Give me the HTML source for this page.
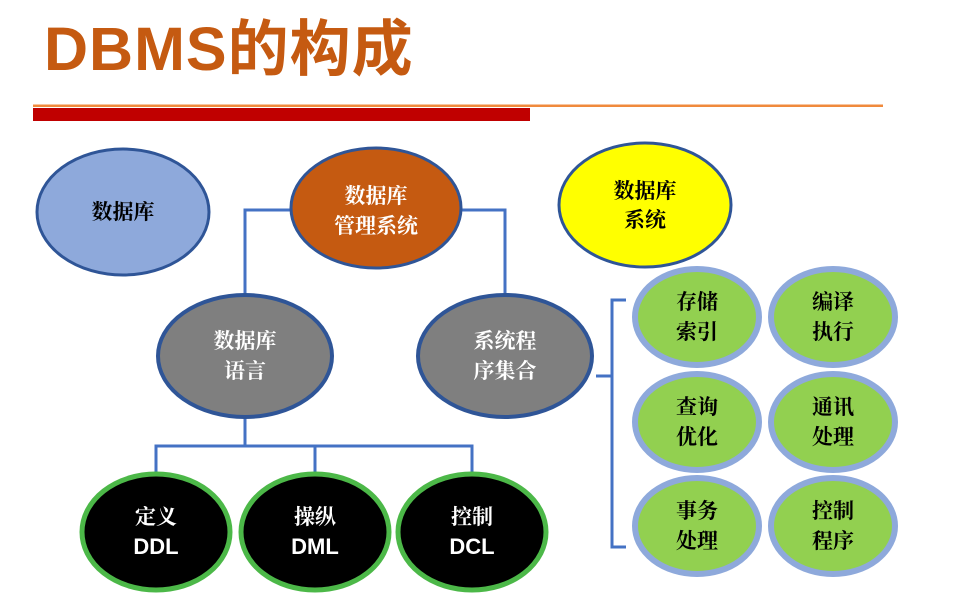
<!DOCTYPE html>
<html><head><meta charset="utf-8"><style>
body{margin:0;background:#fff;width:955px;height:609px;overflow:hidden}
svg{display:block}
.t{font-family:"Liberation Serif","Noto Serif CJK SC",serif;font-weight:bold;font-size:21px;text-anchor:middle}
.s{font-family:"Liberation Sans","Noto Sans CJK SC",sans-serif;font-weight:bold;font-size:22px;text-anchor:middle;fill:#fff}
</style></head><body>
<svg width="955" height="609" viewBox="0 0 955 609">
<text x="44" y="70" style="font-family:'Liberation Sans','Noto Sans CJK SC',sans-serif;font-weight:bold;font-size:61px;letter-spacing:1px;fill:#C55A11">DBMS的构成</text>
<rect x="33" y="104.5" width="850" height="2.5" fill="#F08A3C"/>
<rect x="33" y="108" width="497" height="13" fill="#C00000"/>
<g fill="none" stroke="#4472C4" stroke-width="3">
<polyline points="292,210 245,210 245,296"/>
<polyline points="460,210 505,210 505,296"/>
<polyline points="245,418 245,446"/>
<polyline points="156,474 156,446 472,446 472,474"/>
<line x1="315" y1="446" x2="315" y2="474"/>
<polyline points="626,300 612,300 612,547 626,547"/>
<line x1="596" y1="376" x2="612" y2="376"/>
</g>
<g stroke="#2F5597" stroke-width="3">
<ellipse cx="123" cy="212" rx="86" ry="63" fill="#8EA9DB"/>
<ellipse cx="376" cy="208" rx="85" ry="60" fill="#C55A11"/>
<ellipse cx="645" cy="205" rx="86" ry="62" fill="#FFFF00"/>
<ellipse cx="245" cy="356" rx="87" ry="61" fill="#7F7F7F" stroke-width="4"/>
<ellipse cx="505" cy="356" rx="87" ry="61" fill="#7F7F7F" stroke-width="4"/>
</g>
<g stroke="#4CB848" stroke-width="5" fill="#000">
<ellipse cx="156" cy="532" rx="74" ry="58"/>
<ellipse cx="315" cy="532" rx="74" ry="58"/>
<ellipse cx="472" cy="532" rx="74" ry="58"/>
</g>
<g stroke="#8EA9DB" stroke-width="6" fill="#92D050">
<ellipse cx="697" cy="317" rx="62" ry="48"/><ellipse cx="833" cy="317" rx="62" ry="48"/>
<ellipse cx="697" cy="422" rx="62" ry="48"/><ellipse cx="833" cy="422" rx="62" ry="48"/>
<ellipse cx="697" cy="526" rx="62" ry="48"/><ellipse cx="833" cy="526" rx="62" ry="48"/>
</g>
<text class="t" x="123" y="219">数据库</text>
<text class="t" x="376" y="203" fill="#fff">数据库</text>
<text class="t" x="376" y="233" fill="#fff">管理系统</text>
<text class="t" x="645" y="198">数据库</text>
<text class="t" x="645" y="227">系统</text>
<text class="t" x="245" y="348" fill="#fff">数据库</text>
<text class="t" x="245" y="378" fill="#fff">语言</text>
<text class="t" x="505" y="348" fill="#fff">系统程</text>
<text class="t" x="505" y="378" fill="#fff">序集合</text>
<text class="t" x="156" y="524" fill="#fff">定义</text>
<text class="t" x="315" y="524" fill="#fff">操纵</text>
<text class="t" x="472" y="524" fill="#fff">控制</text>
<text class="s" x="156" y="554">DDL</text>
<text class="s" x="315" y="554">DML</text>
<text class="s" x="472" y="554">DCL</text>
<text class="t" x="697" y="309">存储</text><text class="t" x="697" y="339">索引</text>
<text class="t" x="833" y="309">编译</text><text class="t" x="833" y="339">执行</text>
<text class="t" x="697" y="414">查询</text><text class="t" x="697" y="444">优化</text>
<text class="t" x="833" y="414">通讯</text><text class="t" x="833" y="444">处理</text>
<text class="t" x="697" y="518">事务</text><text class="t" x="697" y="548">处理</text>
<text class="t" x="833" y="518">控制</text><text class="t" x="833" y="548">程序</text>
</svg>
</body></html>
